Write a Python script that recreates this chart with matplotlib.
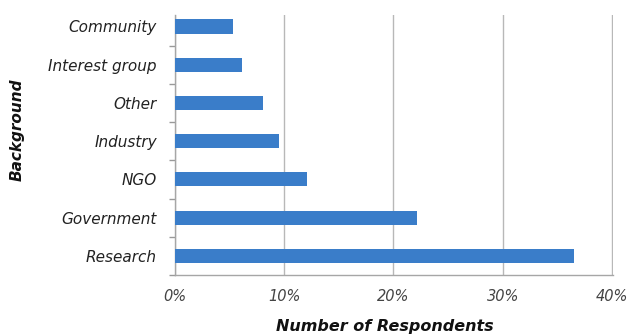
import matplotlib
matplotlib.use("Agg")
import matplotlib.pyplot as plt
from matplotlib.ticker import FuncFormatter, FixedLocator

# respondent background, share of respondents (%)
categories = ["Research", "Government", "NGO", "Industry", "Other", "Interest group", "Community"]
shares = [36.5, 22.2, 12.1, 9.5, 8.1, 6.1, 5.3]
xticks = [0, 10, 20, 30, 40]

plt.rcParams['font.family'] = ['DejaVu Sans']

fig = plt.figure(figsize=(6.32, 3.34), dpi=100)
ax = fig.add_axes([175/632, 59/334, 438/632, 260/334])

pos = list(range(len(categories)))
ax.barh(pos, shares, height=0.37, color='#3a7dc9', zorder=3)

ax.set_xlim(0, 40.1)
ax.set_ylim(-0.5, 6.3)
ax.set_xticks(xticks)
ax.xaxis.set_major_formatter(FuncFormatter(lambda v, p: "%d%%" % v))
ax.set_yticks(pos)
ax.set_yticklabels(categories, fontstyle='italic', fontsize=11, color='#222222')
for lab in ax.get_xticklabels():
    lab.set_fontstyle('italic')
    lab.set_fontsize(10.5)
    lab.set_color('#444444')

# small marks between categories on the y axis
ax.yaxis.set_minor_locator(FixedLocator([p - 0.5 for p in pos]))
ax.tick_params(axis='y', which='major', length=0, pad=13)
ax.tick_params(axis='y', which='minor', length=4, color='#999999', width=1)
ax.tick_params(axis='x', which='major', length=0, pad=10)

ax.grid(axis='x', color='#b8b8b8', linewidth=1, zorder=0)
for s in ['top', 'right']:
    ax.spines[s].set_visible(False)
for s in ['left', 'bottom']:
    ax.spines[s].set_color('#a6a6a6')
    ax.spines[s].set_linewidth(1)

fig.text(17/632, 1 - 130/334, "Background", rotation=90, ha='center', va='center',
         fontsize=11, fontweight='bold', fontstyle='italic', color='#111111')
fig.text(385/632, 1 - 326/334, "Number of Respondents", ha='center', va='center',
         fontsize=11.5, fontweight='bold', fontstyle='italic', color='#111111')

fig.savefig("out.png", dpi=100)
